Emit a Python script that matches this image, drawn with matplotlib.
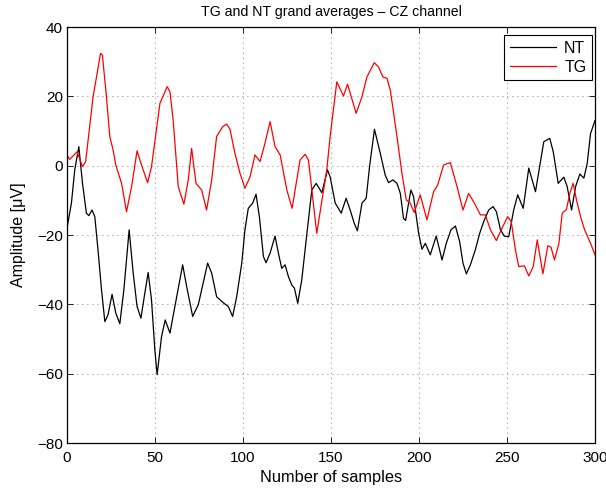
import matplotlib
matplotlib.use("Agg")
import matplotlib.pyplot as plt

nt_x = [0, 2.5, 4.4, 6.7, 8.8, 11, 12.4, 14.2, 15.8, 17.6, 19.6, 21.5, 23.3, 25.6, 27.7, 30, 32.3, 35.3,
        37.6, 39.8, 42, 44.2, 46.1, 48, 49.9, 51.2, 53.7, 55.8, 58.5, 61.3, 65.7, 68, 71.4, 74.6, 79.9,
        82.2, 85, 89.2, 91.6, 94.1, 96.4, 99.3, 101.1, 103, 105.5, 107.4, 109.3, 111.6, 113.1, 115.4,
        118.2, 120.1, 122, 123.9, 125.8, 127.7, 129.2, 131.1, 133.4, 135.9, 139.1, 141.6, 144.8, 148,
        149.5, 152.4, 154.2, 155.8, 158.6, 160.9, 163.2, 165, 167.6, 170, 171.9, 174.7, 178, 180.8,
        182.7, 185.2, 187.5, 189.4, 191.2, 192.4, 195.4, 196.9, 199.8, 201.7, 203.6, 206.4, 209.8,
        213.1, 215.5, 218.2, 220.7, 223.1, 225, 226.9, 229.2, 232, 234.5, 236.8, 239.6, 242.1, 244,
        246.3, 248.5, 251, 253.8, 256.1, 259.2, 262.4, 266.2, 270.9, 274.3, 276.3, 279.1, 282.3, 284.2,
        286.7, 289, 291.4, 293.7, 295.6, 297.5, 300]
nt_y = [-18, -10.8, -1.2, 5.5, -5.1, -13.7, -14.4, -12.8, -14.7, -24.3, -35.8, -45, -43, -37.1, -42.5,
        -45.6, -35.8, -18.5, -31, -40.6, -44, -36.8, -30.8, -38.7, -53.1, -60.3, -49.3, -44.5, -48.3,
        -40.6, -28.6, -34.9, -43.5, -40.1, -28.1, -31, -37.8, -39.7, -40.6, -43.5, -37.8, -28.1, -18.5,
        -12.3, -10.8, -8.2, -14.7, -26.2, -28, -25.2, -20.3, -25.2, -29.6, -28.6, -32, -34.4, -35.3,
        -39.7, -32.9, -21.4, -7, -5.1, -7.8, -1.2, -3.2, -10.8, -12.3, -13.7, -9.4, -12.8, -16.6, -18.8,
        -10.8, -9.4, -0.3, 10.5, 3.6, -2.7, -4.9, -4.1, -5.1, -8, -15.2, -15.8, -7, -8.9, -19.5, -24.1,
        -22.4, -25.7, -20.3, -27.2, -22.4, -18.5, -17.4, -21.9, -28.1, -31.2, -28.6, -24.3, -19.5, -16.1,
        -12.8, -11.8, -13.3, -18.5, -20.3, -20.5, -12.8, -8.4, -12.3, -0.7, -7.5, 6.9, 7.9, 4, -5.1,
        -3.3, -6, -12.8, -6, -2.4, -3.6, 0.7, 9.3, 13]

tg_x = [0, 1.5, 5.7, 8.8, 10.6, 14.8, 17.1, 19, 20.1, 22.4, 24.3, 26.2, 27.7, 31, 33.8, 36.7, 39.8, 42.3,
        45.8, 48, 52.8, 56.9, 58.5, 60.3, 63.2, 66.4, 68.9, 70.8, 73.3, 76.5, 79.3, 82.2, 85, 88.4, 90.7,
        92.6, 95.4, 98.3, 101.1, 104, 106.8, 109.7, 112.5, 115.4, 118.2, 121.1, 124.9, 127.9, 132.4,
        135.3, 137.2, 141.9, 147.6, 149.5, 153.3, 157.1, 159.4, 164.3, 167.6, 170.4, 174.6, 177, 179.5,
        181.8, 183.7, 187.5, 190.3, 192.8, 195, 197.3, 200.7, 204.5, 208.3, 210.6, 214, 217.8, 221.6,
        225, 228.2, 231.5, 234.9, 237.7, 240.6, 244, 247.2, 250.4, 252.4, 254.8, 256.7, 259.9, 262.4,
        264.9, 267.2, 270.4, 273.2, 275, 277, 279.5, 281.4, 283.8, 285.7, 287.6, 289.5, 291.8, 294.1,
        297.5, 300]
tg_y = [3, 1.8, 4.0, -0.3, 1.2, 19.9, 26.6, 32.4, 31.9, 19.9, 8.4, 4.5, 0.2, -5.1, -13.3, -6, 4.3, 0.2,
        -4.9, -0.3, 18, 22.8, 21.3, 13.2, -6, -11.1, -4.1, 5, -5.1, -7, -12.8, -4.1, 8.4, 11.2, 12, 10.5,
        3.6, -2.2, -6.5, -3.2, 3.1, 1.2, 6.5, 12.7, 5.5, 3.1, -7, -12.3, 1.6, 3.3, 1.6, -19.5, -1.2, 8.4,
        24.2, 20.1, 23.5, 15.1, 19.9, 25.6, 29.7, 28.5, 25.6, 25.2, 21.8, 8.4, -2.2, -9.9, -10.8, -13.5,
        -8.4, -15.6, -7.5, -5.6, 0.2, 0.9, -6, -12.8, -8, -10.8, -14.2, -14.2, -18.5, -21.6, -18, -14.7,
        -16.1, -24.3, -29.1, -28.9, -31.8, -29.1, -21.4, -31.2, -23.1, -23.5, -27.2, -22.4, -13.7, -12.6,
        -8, -5.1, -9.9, -14.7, -18.5, -22.4, -25.7]

x_ticks = [0, 50, 100, 150, 200, 250, 300]
y_ticks = [-80, -60, -40, -20, 0, 20, 40]

plt.rcParams['font.family'] = ['Liberation Sans', 'DejaVu Sans']

fig = plt.figure(figsize=(6.06, 4.94), dpi=100)
ax = fig.add_axes([0.1106, 0.1032, 0.8712, 0.8421])

ax.plot(nt_x, nt_y, color='black', lw=0.9, label='NT')
ax.plot(tg_x, tg_y, color='red', lw=0.9, label='TG')

ax.set_xlim(0, 300)
ax.set_ylim(-80, 40)
ax.set_xticks(x_ticks)
ax.set_yticks(y_ticks)
ax.tick_params(direction='in', top=True, right=True, length=4, width=0.6, labelsize=11)
ax.tick_params(axis='y', pad=3)
ax.tick_params(axis='x', pad=5.5)
ax.grid(True, color='#555555', linestyle=(0, (1, 5)), linewidth=0.6)
for s in ax.spines.values():
    s.set_linewidth(0.9)

ax.set_title('TG and NT grand averages \u2013 CZ channel', fontsize=10.2, pad=8)
ax.set_xlabel('Number of samples', fontsize=11.8, labelpad=4)
ax.set_ylabel('Amplitude [\u03bcV]', fontsize=11.5, labelpad=8)

leg = ax.legend(loc='upper right', bbox_to_anchor=(1 - 3 / 528, 1 - 8 / 416), borderaxespad=0,
                fontsize=11.5, fancybox=False, edgecolor='black', framealpha=1,
                handlelength=2.9, borderpad=0.35, labelspacing=0.25, handletextpad=0.5)
leg.get_frame().set_linewidth(0.8)

fig.savefig('out.png', dpi=100)
